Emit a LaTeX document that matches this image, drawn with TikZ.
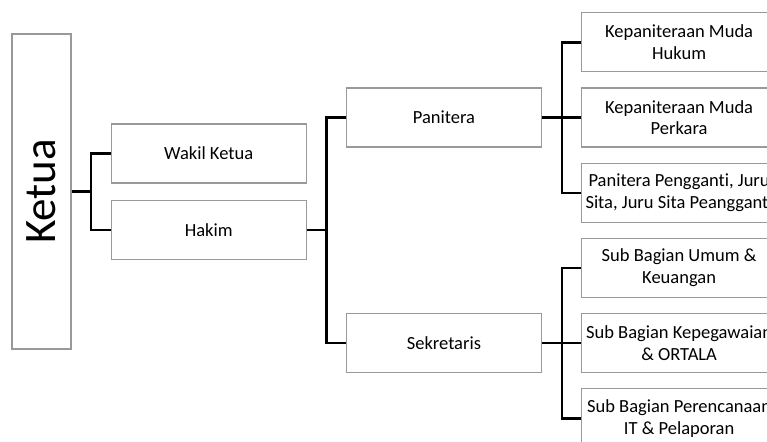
\documentclass[tikz,border=0pt]{standalone}
\usepackage{fontspec}
\setmainfont{Carlito}[Ligatures=NoCommon]
\usetikzlibrary{positioning}

\begin{document}
\begin{tikzpicture}[node distance=7.5pt and 19.5pt, font=\fontsize{9.25}{10.8}\selectfont,
  unit/.style={rectangle, draw=gray!80, line width=0.6pt, fill=white, minimum width=97.5pt, minimum height=29.5pt, inner xsep=0pt, align=center},
  link/.style={line width=1.2pt, black}
]

\useasboundingbox (-20.75pt,-124.75pt) rectangle (362.75pt,95.75pt);
\clip (-20.75pt,-124.75pt) rectangle (362.75pt,95.75pt);

\node[unit, minimum width=29.5pt, minimum height=157.5pt] (ketua) {\rotatebox{90}{\fontsize{22.5}{27}\selectfont Ketua}};
\node[unit, right=19.5pt of ketua, yshift=19pt] (wakil) {Wakil Ketua};
\node[unit, below=8pt of wakil] (hakim) {Hakim};

\node[unit, above right=26pt and 19.5pt of hakim] (panitera) {Panitera};
\node[unit, right=of panitera] (perkara) {Kepaniteraan Muda\\Perkara};
\node[unit, above=of perkara] (hukum) {Kepaniteraan Muda\\Hukum};
\node[unit, below=of perkara] (pengganti) {Panitera Pengganti, Juru\\Sita, Juru Sita Peangganti};
\node[unit, below=of pengganti] (umum) {Sub Bagian Umum \&\\Keuangan};
\node[unit, below=of umum] (kepegawaian) {Sub Bagian Kepegawaian\\\& ORTALA};
\node[unit, below=of kepegawaian] (perencanaan) {Sub Bagian Perencanaan\\IT \& Pelaporan};
\node[unit, left=of kepegawaian] (sekretaris) {Sekretaris};

\draw[link] (ketua.east) -- ++(9.75pt,0) coordinate (j1) |- (wakil.west);
\draw[link] (j1) |- (hakim.west);
\draw[link] (hakim.east) -- ++(9.75pt,0) coordinate (j2) |- (panitera.west);
\draw[link] (j2) |- (sekretaris.west);
\draw[link] (panitera.east) -- ++(10pt,0) coordinate (j3);
\foreach \sub in {hukum, perkara, pengganti}
  \draw[link] (j3) |- (\sub.west);
\draw[link] (sekretaris.east) -- ++(10pt,0) coordinate (j4);
\foreach \sub in {umum, kepegawaian, perencanaan}
  \draw[link] (j4) |- (\sub.west);

\end{tikzpicture}
\end{document}
